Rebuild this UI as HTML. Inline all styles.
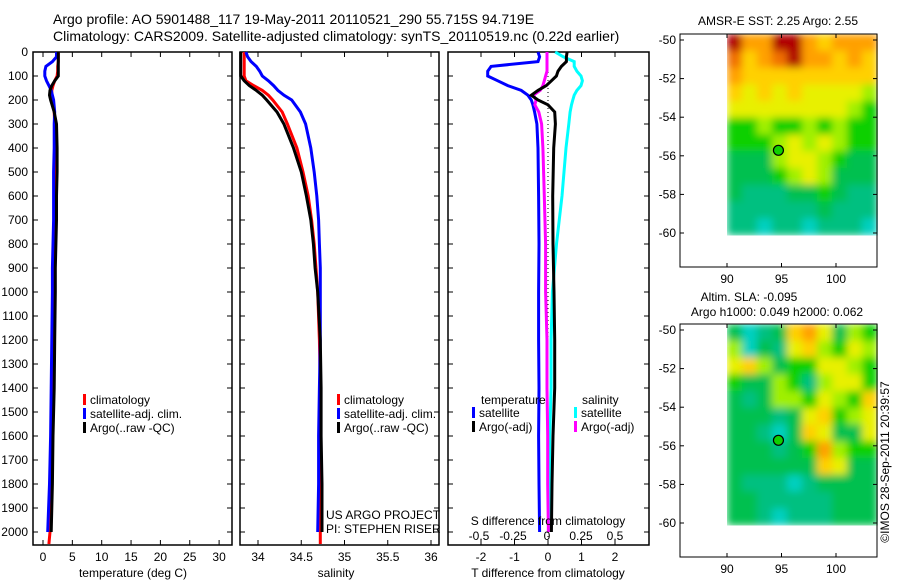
<!DOCTYPE html>
<html><head><meta charset="utf-8"><style>
html,body{margin:0;padding:0;background:#fff;}
svg{display:block;font-family:"Liberation Sans",sans-serif;}
</style></head><body>
<svg id="fig" width="900" height="580" viewBox="0 0 900 580" xmlns="http://www.w3.org/2000/svg">
<defs>
<filter id="soft" x="0" y="0" width="1" height="1"><feGaussianBlur stdDeviation="4" edgeMode="duplicate"/></filter>
</defs>
<text x="53" y="24" font-size="14">Argo profile: AO 5901488_117 19-May-2011 20110521_290 55.715S 94.719E</text>
<text x="53" y="41" font-size="14">Climatology: CARS2009. Satellite-adjusted climatology: synTS_20110519.nc (0.22d earlier)</text>
<g id="layer"></g>
</svg>
<script>
// ---- data ----
const depths = [0,20,40,60,80,100,120,140,160,180,200,250,300,400,500,600,700,800,900,1000,1200,1400,1600,1800,2000,2050];
const climT = [2.6,2.6,2.6,2.5,2.5,2.4,2.0,1.7,1.5,1.5,1.6,1.9,2.0,2.0,2.0,1.9,1.9,1.9,1.8,1.8,1.7,1.6,1.5,1.4,1.2,1.0];
const satT  = [2.3,2.3,1.6,0.5,0.3,0.3,0.6,1.0,1.4,1.6,1.8,2.0,1.9,1.9,1.8,1.8,1.8,1.7,1.6,1.6,1.5,1.4,1.3,1.1,0.8,null];
const argoT = [2.6,2.6,2.6,2.6,2.6,2.6,2.0,1.5,1.2,1.1,1.3,1.9,2.3,2.4,2.4,2.3,2.3,2.2,2.1,2.1,2.0,1.9,1.7,1.6,1.4,null];
const climS = [33.84,33.84,33.84,33.84,33.84,33.84,33.86,33.95,34.05,34.12,34.17,34.28,34.34,34.45,34.52,34.58,34.62,34.65,34.67,34.69,34.71,34.72,34.72,34.72,34.72,34.72];
const satS  = [33.86,33.88,33.92,33.98,34.02,34.05,34.12,34.18,34.23,34.30,34.39,34.49,34.55,34.61,34.65,34.68,34.70,34.71,34.72,34.72,34.72,34.71,34.70,34.70,34.69,null];
const argoS = [33.80,33.80,33.80,33.80,33.80,33.80,33.84,33.90,33.98,34.05,34.10,34.22,34.30,34.41,34.50,34.56,34.61,34.64,34.66,34.69,34.72,34.73,34.73,34.74,34.74,null];
const diffDepths = [0,20,40,60,80,100,120,140,160,180,200,220,250,300,400,600,800,1000,1200,1400,1600,1800,2000];
const dTsat  = [-0.3,-0.25,-0.3,-1.7,-1.8,-1.8,-1.5,-1.2,-0.8,-0.6,-0.5,-0.45,-0.4,-0.33,-0.3,-0.28,-0.27,-0.28,-0.28,-0.27,-0.28,-0.27,-0.25];
const dTargo = [0.57,0.55,0.55,0.4,0.3,0.25,0.1,-0.05,-0.3,-0.5,-0.3,0.0,0.2,0.22,0.17,0.14,0.15,0.18,0.2,0.2,0.15,0.12,0.1];
const dSsat  = [0.06,0.12,0.2,0.2,0.22,0.25,0.26,0.25,0.22,0.2,0.19,0.18,0.17,0.16,0.14,0.11,0.07,0.04,0.03,0.03,0.02,0.02,0.01];
const dSargo = [0,0,0,0,0,-0.01,-0.02,-0.03,-0.05,-0.1,-0.08,-0.09,-0.06,-0.04,-0.03,-0.02,-0.01,-0.01,0,0,0.005,0.005,0.01];
const depthTicks = [0,100,200,300,400,500,600,700,800,900,1000,1100,1200,1300,1400,1500,1600,1700,1800,1900,2000];
const tempTicks = [0,5,10,15,20,25,30];
const salTicks = [34,34.5,35,35.5,36];
const tdiffTicks = [-2,-1,0,1,2];
const sdiffTicks = [-0.5,-0.25,0,0.25,0.5];
const sdiffLabels = ["-0.5","-0.25","0","0.25","0.5"];
const lonTicks = [90,95,100];
const latTicks = [-50,-52,-54,-56,-58,-60];
const sstGrid = [
[9,7,7,9,9,7,6,7,7,7],[8,6,7,8,9,7,7,6,7,6],[7,6,6,6,6,6,6,6,6,6],[6,5,6,5,6,5,5,5,5,4],
[5,5,5,5,5,5,5,5,4,3],[3,3,4,3,3,4,3,4,3,3],[3,3,3,4,5,4,5,4,3,3],[2,2,2,4,5,5,4,3,2,2],
[2,2,2,3,4,5,4,2,2,2],[2,1,1,1,2,2,3,2,1,1],[1,1,1,1,1,1,2,1,1,1],[1,1,0,1,1,0,1,1,1,0]];
const slaGrid = [
[2,0,1,2,6,7,5,2,4,3],[4,0,2,1,5,6,4,3,5,4],[5,6,4,2,3,3,5,5,4,3],[3,2,2,4,3,1,4,5,5,3],
[2,1,2,4,4,3,5,4,3,6],[2,2,2,1,2,5,6,3,4,5],[2,2,1,0,2,6,5,2,2,5],[2,2,2,1,2,3,7,4,3,3],
[2,2,2,2,2,2,6,5,2,2],[2,1,1,1,0,1,2,2,2,2],[2,2,1,1,1,1,1,2,2,2],[2,2,1,0,1,1,1,2,2,2]];
const argoLon = 94.719, argoLat = -55.715;
const palette = ["#00d0c0","#00c080","#00c050","#10d000","#a0f000","#e8f000","#ffd000","#ffa000","#f07000","#b00000"];

const NS="http://www.w3.org/2000/svg";
const L=document.getElementById('layer');
function mk(tag,attrs,parent){const e=document.createElementNS(NS,tag);for(const k in attrs)e.setAttribute(k,attrs[k]);(parent||L).appendChild(e);return e;}
function txt(x,y,s,size,anchor,parent){const t=mk('text',{x:x,y:y,'font-size':size||12,'text-anchor':anchor||'start'},parent);t.textContent=s;return t;}

const Y0=52, PPM=0.24;
function yD(d){return Y0+d*PPM;}
const BOT=545;

function frame(x0,x1,name){
  const g=mk('g',{});
  
  
  mk('rect',{x:x0,y:Y0,width:x1-x0,height:BOT-Y0,fill:'none',stroke:'#000','stroke-width':1.5},g);
  depthTicks.forEach(d=>{mk('line',{x1:x0,x2:x0+5,y1:yD(d),y2:yD(d),stroke:'#000'},g);mk('line',{x1:x1-5,x2:x1,y1:yD(d),y2:yD(d),stroke:'#000'},g);});
  return g;
}
function line(xs,ds,fx,color,name,w){
  const pts=[];xs.forEach((v,i)=>{if(v!==null)pts.push(fx(v).toFixed(1)+','+yD(ds[i]).toFixed(1));});
  const p=mk('polyline',{points:pts.join(' '),fill:'none',stroke:color,'stroke-width':w||3,'stroke-linejoin':'miter'});
  
  
}
function legend(x,y,items,name){
  const g=mk('g',{});
  
  
  items.forEach((it,i)=>{mk('rect',{x:x,y:y+i*14-10,width:3,height:11,fill:it[0]},g);txt(x+7,y+i*14,it[1],12,'start',g);});
}

// Panel 1 temperature
const xT=v=>43+5.87*v;
frame(33,232,'temperature-panel');
depthTicks.forEach(d=>{const t=txt(28,yD(d)+4,String(d),12,'end');});
tempTicks.forEach(v=>{mk('line',{x1:xT(v),x2:xT(v),y1:Y0,y2:Y0+5,stroke:'#000'});mk('line',{x1:xT(v),x2:xT(v),y1:BOT-5,y2:BOT,stroke:'#000'});txt(xT(v),561,String(v),12,'middle');});
txt(133,577,'temperature (deg C)',12,'middle');
line(climT,depths,xT,'#ff0000','temp-climatology-line');
line(satT,depths,xT,'#0000ff','temp-satellite-line');
line(argoT,depths,xT,'#000000','temp-argo-line');
legend(83,404,[['#ff0000','climatology'],['#0000ff','satellite-adj. clim.'],['#000000','Argo(..raw -QC)']],'temperature-legend');

// Panel 2 salinity
const xS=v=>258+86.5*(v-34);
frame(240,439,'salinity-panel');
salTicks.forEach(v=>{mk('line',{x1:xS(v),x2:xS(v),y1:Y0,y2:Y0+5,stroke:'#000'});mk('line',{x1:xS(v),x2:xS(v),y1:BOT-5,y2:BOT,stroke:'#000'});txt(xS(v),561,String(v),12,'middle');});
txt(336,577,'salinity',12,'middle');
line(climS,depths,xS,'#ff0000','sal-climatology-line');
line(satS,depths,xS,'#0000ff','sal-satellite-line');
line(argoS,depths,xS,'#000000','sal-argo-line');
legend(337,404,[['#ff0000','climatology'],['#0000ff','satellite-adj. clim.'],['#000000','Argo(..raw -QC)']],'salinity-legend');
txt(326,519,'US ARGO PROJECT',12);
txt(326,533,'PI: STEPHEN RISER',12);

// Panel 3 differences
const xDT=v=>548+33.5*v;
const xDS=v=>547+136*v;
frame(448,649,'difference-panel');
tdiffTicks.forEach(v=>{mk('line',{x1:xDT(v),x2:xDT(v),y1:Y0,y2:Y0+5,stroke:'#000'});mk('line',{x1:xDT(v),x2:xDT(v),y1:BOT-5,y2:BOT,stroke:'#000'});txt(xDT(v),561,String(v),12,'middle');});
mk('line',{x1:xDT(0),x2:xDT(0),y1:Y0,y2:BOT,stroke:'#000','stroke-dasharray':'1,3'});
line(dTsat,diffDepths,xDT,'#0000ff','tdiff-satellite-line');
line(dSsat,diffDepths,xDS,'#00ffff','sdiff-satellite-line');
line(dSargo,diffDepths,xDS,'#ff00ff','sdiff-argo-line');
line(dTargo,diffDepths,xDT,'#000000','tdiff-argo-line');
txt(481,404,'temperature',12);txt(582,404,'salinity',12);
legend(472,417,[['#0000ff','satellite'],['#000000','Argo(-adj)']],'temperature-diff-legend');
legend(574,417,[['#00ffff','satellite'],['#ff00ff','Argo(-adj)']],'salinity-diff-legend');
txt(548,525,'S difference from climatology',12,'middle');
sdiffTicks.forEach((v,i)=>txt(xDS(v),540,sdiffLabels[i],12,'middle'));
txt(548,577,'T difference from climatology',12,'middle');

// Maps
const mx=v=>727+(v-90)*10.9;
function map(top,grid,name,titles){
  const lat=v=>top+6+(-50-v)*19.3;
  const g=mk('g',{});
  
  
  const rows=grid.length, cols=grid[0].length;
  const x0=mx(90), x1=877, y0=top, y1=lat(-60.1);
  const cw=(x1-x0)/cols, ch=(y1-y0)/rows;
  const cells=mk('g',{filter:'url(#soft)'},g);
  
  
  grid.forEach((r,i)=>r.forEach((v,j)=>{mk('rect',{x:(x0+j*cw).toFixed(1),y:(y0+i*ch).toFixed(1),width:(cw+0.6).toFixed(1),height:(ch+0.6).toFixed(1),fill:palette[v]},cells);}));
  mk('rect',{x:680,y:top,width:197,height:233,fill:'none',stroke:'#000'},g);
  lonTicks.forEach(v=>{mk('line',{x1:mx(v),x2:mx(v),y1:top,y2:top+4,stroke:'#000'},g);mk('line',{x1:mx(v),x2:mx(v),y1:top+229,y2:top+233,stroke:'#000'},g);txt(mx(v),top+249,String(v),12,'middle',g);});
  latTicks.forEach(v=>{mk('line',{x1:680,x2:684,y1:lat(v),y2:lat(v),stroke:'#000'},g);mk('line',{x1:873,x2:877,y1:lat(v),y2:lat(v),stroke:'#000'},g);txt(676,lat(v)+4,String(v),12,'end',g);});
  const c=mk('circle',{cx:mx(argoLon),cy:lat(argoLat),r:5,fill:palette[3],stroke:'#000','stroke-width':1.2},g);
  
  
  titles.forEach(t=>txt(t[0],t[1],t[2],12,'middle',g));
}
map(34,sstGrid,'sst-map',[[778,25,'AMSR-E SST: 2.25 Argo: 2.55']]);
map(324,slaGrid,'sla-map',[[749,301,'Altim. SLA: -0.095'],[777,316,'Argo h1000: 0.049 h2000: 0.062']]);

const cr=txt(0,0,'©IMOS 28-Sep-2011 20:39:57',12,'middle');
cr.setAttribute('transform','translate(889,462) rotate(-90)');


</script>
</body></html>
